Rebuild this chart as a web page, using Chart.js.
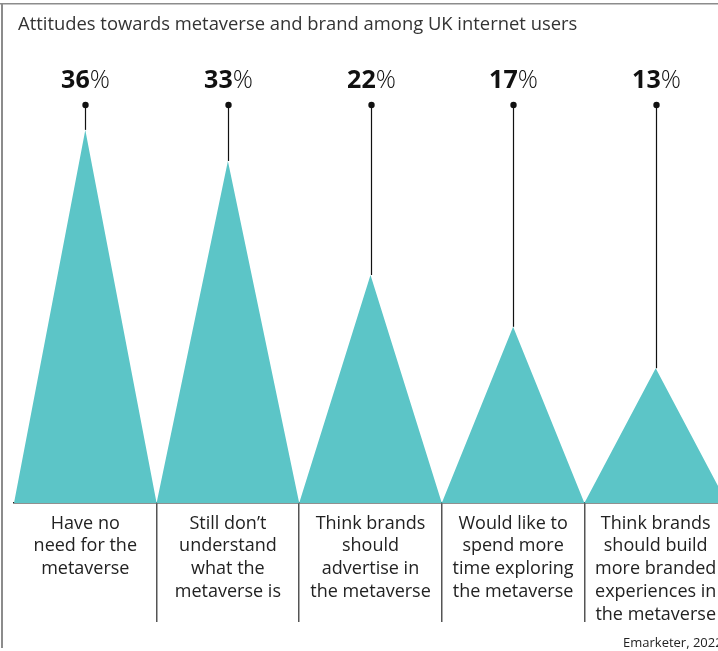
<!DOCTYPE html>
<html>
<head>
<meta charset="utf-8">
<script src="https://cdn.jsdelivr.net/npm/chart.js@4.4.1/dist/chart.umd.min.js"></script>
<style>
  html, body { margin: 0; padding: 0; background: #fff; overflow: hidden; }
  #frame { width: 718px; height: 651px; overflow: hidden; position: relative; }
  /* the chart runs a little past the right edge, as in the original crop */
  #wrap { width: 727px; height: 651px; position: absolute; left: 0; top: 0; }
</style>
</head>
<body>
<div id="frame"><div id="wrap"><canvas id="attitudesChart"></canvas></div></div>
<script>
const title = 'Attitudes towards metaverse and brand among UK internet users';
const source = 'Emarketer, 2022';
const categories = [
  ['Have no', 'need for the', 'metaverse'],
  ['Still don\u2019t', 'understand', 'what the', 'metaverse is'],
  ['Think brands', 'should', 'advertise in', 'the metaverse'],
  ['Would like to', 'spend more', 'time exploring', 'the metaverse'],
  ['Think brands', 'should build', 'more branded', 'experiences in', 'the metaverse']
];
const values = [36, 33, 22, 17, 13];

const teal = '#5cc5c7';
const font = '"Open Sans", "Liberation Sans", sans-serif';

// each value becomes a triangle, base corners half a category either side
const peaks = [];
values.forEach((v, i) => {
  peaks.push({x: i - 0.5, y: 0}, {x: i, y: v}, {x: i + 0.5, y: 0});
});

// frame lines, title, source, and the pin + value label on each peak
const decor = {
  id: 'decor',
  beforeDraw(chart) {
    const c = chart.ctx;
    c.save();
    c.fillStyle = '#8c8c8c';
    c.fillRect(0, 3, chart.width, 1.5);
    c.fillRect(1, 3, 2, 645);
    c.fillStyle = '#333';
    c.textBaseline = 'alphabetic';
    c.font = '18.4px ' + font;
    c.fillText(title, 18, 30);
    c.fillStyle = '#222';
    c.font = '13px ' + font;
    c.fillText(source, 623, 647);
    c.restore();
  },
  afterDatasetsDraw(chart) {
    const c = chart.ctx, xs = chart.scales.x, ys = chart.scales.y;
    const top = chart.chartArea.top;
    c.save();
    values.forEach((v, i) => {
      const px = Math.round(xs.getPixelForValue(i)) + 0.5;
      const py = ys.getPixelForValue(v);
      c.strokeStyle = '#111';
      c.lineWidth = 1.2;
      c.beginPath();
      c.moveTo(px, top);
      c.lineTo(px, py);
      c.stroke();
      c.fillStyle = '#111';
      c.beginPath();
      c.arc(px, top, 3.2, 0, Math.PI * 2);
      c.fill();

      const num = String(v);
      c.font = 'bold 25px ' + font;
      const w1 = c.measureText(num).width;
      c.font = '300 25px ' + font;
      const w2 = c.measureText('%').width;
      const x0 = px - (w1 + w2) / 2;
      c.textBaseline = 'alphabetic';
      c.font = 'bold 25px ' + font;
      c.fillText(num, x0, 88);
      c.font = '300 25px ' + font;
      c.fillText('%', x0 + w1, 88);
    });
    c.restore();
  }
};

new Chart(document.getElementById('attitudesChart'), {
  type: 'line',
  data: {
    datasets: [{
      data: peaks,
      fill: 'origin',
      backgroundColor: teal,
      borderWidth: 0,
      pointRadius: 0,
      tension: 0
    }]
  },
  options: {
    responsive: true,
    maintainAspectRatio: false,
    animation: false,
    layout: { padding: { top: 105, left: 14, right: 0, bottom: 28 } },
    plugins: { legend: { display: false }, tooltip: { enabled: false } },
    scales: {
      x: { type: 'linear', min: -0.5, max: 4.5, display: false },
      y: { min: 0, max: 38.4, display: false },
      cats: {
        type: 'category',
        labels: categories,
        position: 'bottom',
        offset: true,
        z: 1,
        border: { color: '#222', width: 1.5 },
        grid: {
          offset: true,
          drawOnChartArea: false,
          tickLength: 119,
          lineWidth: 1.5,
          color: ctx => ctx.index === 0 ? 'rgba(0,0,0,0)' : '#555'
        },
        ticks: {
          padding: -110,
          color: '#222',
          autoSkip: false,
          maxRotation: 0,
          font: { family: font, size: 18, lineHeight: 1.265 }
        },
        afterFit(s) { s.height = 120; }
      }
    }
  },
  plugins: [decor]
});
</script>
</body>
</html>
